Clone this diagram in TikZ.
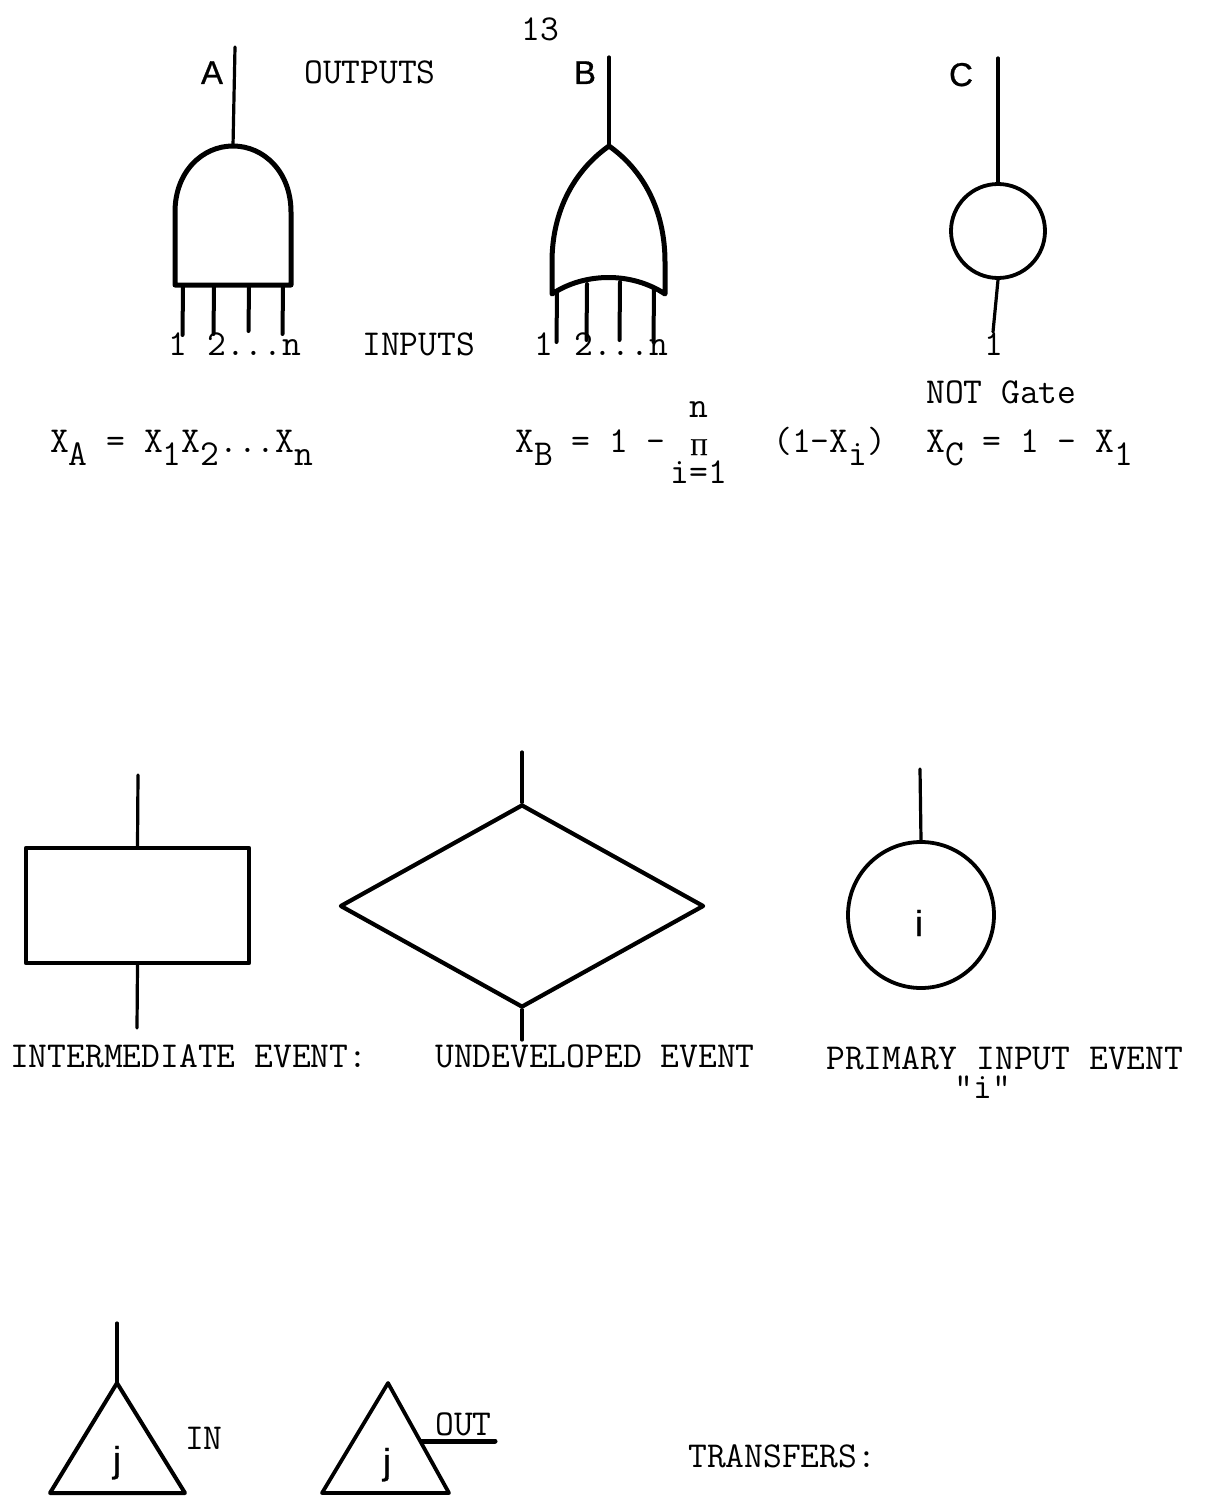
\documentclass[tikz,border=0pt]{standalone}
\usepackage{fontspec}
\newfontfamily\lblfont[FakeBold=0.8]{Liberation Sans}
\newfontfamily\pifont[FakeBold=0.8]{Liberation Serif}
\usetikzlibrary{shapes.geometric}
\newcommand{\lo}[1]{\raisebox{-13pt}{#1}}
\tikzset{
  txt/.style={inner sep=0pt,anchor=base west,font=\ttfamily\fontsize{36.5}{40}\selectfont\addfontfeature{FakeBold=0.8}},
  ctxt/.style={txt,anchor=base},
  lbl/.style={inner sep=0pt,anchor=base,font=\lblfont\fontsize{33}{36}\selectfont},
  gl/.style={inner sep=0pt,anchor=base,font=\lblfont\fontsize{36}{40}\selectfont},
  wire/.style={line width=3.2pt,line cap=round},
  heavy/.style={line width=5pt,line join=round,line cap=round},
  evt/.style={draw,line width=4.2pt,inner sep=0pt,line join=round}
}
\begin{document}
\begin{tikzpicture}[x=1pt,y=-1pt]
\path[use as bounding box,fill=white] (0,0) rectangle (1209,1512);
\node[txt] (page) at (521,41) {13};
% AND gate
\coordinate (aout) at (233,146);
\coordinate (aend) at (235,47);
\coordinate (abl) at (175,285);
\coordinate (abr) at (291,285);
\draw[heavy] (abl) -- (175,212) .. controls (175,172) and (202,146) .. (aout) .. controls (264,146) and (291,172) .. (291,212) -- (abr) -- cycle;
\draw[wire] (aout) -- (aend);
\foreach \n/\x/\e in {1/183/335,2/214/334,3/249/331,4/283/334}{
  \coordinate (ai\n) at (\x,287);
  \coordinate (ae\n) at (\x-0.5,\e);
  \draw[wire,line width=4pt] (ai\n) -- (ae\n);
}
\node[lbl] (la) at (212,84) {A};
\node[txt] (outs) at (304,84) {OUTPUTS};
\node[txt] (a1) at (168,355) {1};
\node[txt] (an) at (207,355) {2...n};
\node[txt] (ins) at (362,355) {INPUTS};
% OR gate
\coordinate (bout) at (609,146);
\coordinate (bend) at (609,57);
\coordinate (bbl) at (552,294);
\coordinate (bbr) at (665,294);
\draw[heavy] (bout) .. controls (575,170) and (552,210) .. (552,262) -- (bbl) .. controls (585,272) and (632,272) .. (bbr) -- (665,262) .. controls (665,210) and (643,170) .. (bout);
\draw[wire] (bout) -- (bend);
\foreach \n/\x/\t/\e in {1/557/292/342,2/587/284/340,3/620/282/340,4/654/288/342}{
  \coordinate (bi\n) at (\x,\t);
  \coordinate (be\n) at (\x-0.5,\e);
  \draw[wire,line width=4pt] (bi\n) -- (be\n);
}
\node[lbl] (lb) at (585,84) {B};
\node[txt] (b1) at (534,355) {1};
\node[txt] (bn) at (574,355) {2...n};
% NOT gate
\node[draw,circle,line width=3.8pt,minimum size=94pt,inner sep=0pt] (cg) at (998,231) {};
\coordinate (cend) at (998,58);
\coordinate (cin) at (993,332);
\draw[wire] (cg.north) -- (cend);
\draw[wire] (cg.south) -- (cin);
\node[lbl] (lc) at (961,86) {C};
\node[txt] (c1) at (984,355) {1};
\node[txt] (notg) at (926,403) {NOT Gate};
% equations
\node[txt] (xa) at (50,452) {X\lo{A} = X\lo{1}X\lo{2}...X\lo{n}};
\node[txt] (xb) at (515,452) {X\lo{B} = 1 -};
\node[ctxt] (pn) at (699,417) {n};
\node[inner sep=0pt,anchor=base,font=\pifont\fontsize{24}{26}\selectfont] (pi) at (699,455) {Π};
\node[ctxt] (pl) at (699,483) {i=1};
\node[txt] (pf) at (773,452) {(1-X\lo{i})};
\node[txt] (xc) at (926,452) {X\lo{C} = 1 - X\lo{1}};
% events
\node[evt,rectangle,minimum width=223pt,minimum height=115pt] (rect) at (137.5,905.5) {};
\coordinate (rt) at (138,775);
\coordinate (rb) at (137,1028);
\draw[wire] (rect.north) -- (rt);
\draw[wire] (rect.south) -- (rb);
\node[evt,diamond,minimum width=364pt,minimum height=203pt] (dia) at (522,906) {};
\coordinate (dt) at (522,752);
\coordinate (db) at (522,1040);
\draw[wire] (dia.north) -- (dt);
\draw[wire] (dia.south) -- (db);
\node[draw,circle,line width=3.8pt,minimum size=146pt,inner sep=0pt] (pie) at (921,915) {};
\coordinate (pt) at (920,769);
\draw[wire] (pie.north) -- (pt);
\node[gl] (pic) at (919,936) {i};
\node[txt] (t1) at (10,1067) {INTERMEDIATE EVENT:};
\node[txt] (t2) at (435,1067) {UNDEVELOPED EVENT};
\node[txt] (t3) at (826,1069) {PRIMARY INPUT EVENT};
\node[ctxt] (t4) at (983,1098) {"i"};
% transfers
\coordinate (ta) at (117,1383);
\coordinate (tl) at (50,1493);
\coordinate (tr) at (185,1493);
\coordinate (te) at (117,1323);
\draw[heavy,line width=4pt] (ta) -- (tl) -- (tr) -- cycle;
\draw[wire] (ta) -- (te);
\node[gl] (j1) at (117,1472) {j};
\node[txt] (tin) at (185,1449) {IN};
\coordinate (ua) at (388,1383);
\coordinate (ul) at (322,1493);
\coordinate (ur) at (449,1493);
\coordinate (uo) at (422,1441);
\coordinate (ue) at (495,1441);
\draw[heavy,line width=3.8pt] (ua) -- (ul) -- (ur) -- cycle;
\draw[heavy] (uo) -- (ue);
\node[gl] (j2) at (387,1474) {j};
\node[txt] (tout) at (435,1435) {OUT};
\node[txt] (trf) at (688,1467) {TRANSFERS:};
\end{tikzpicture}
\end{document}
